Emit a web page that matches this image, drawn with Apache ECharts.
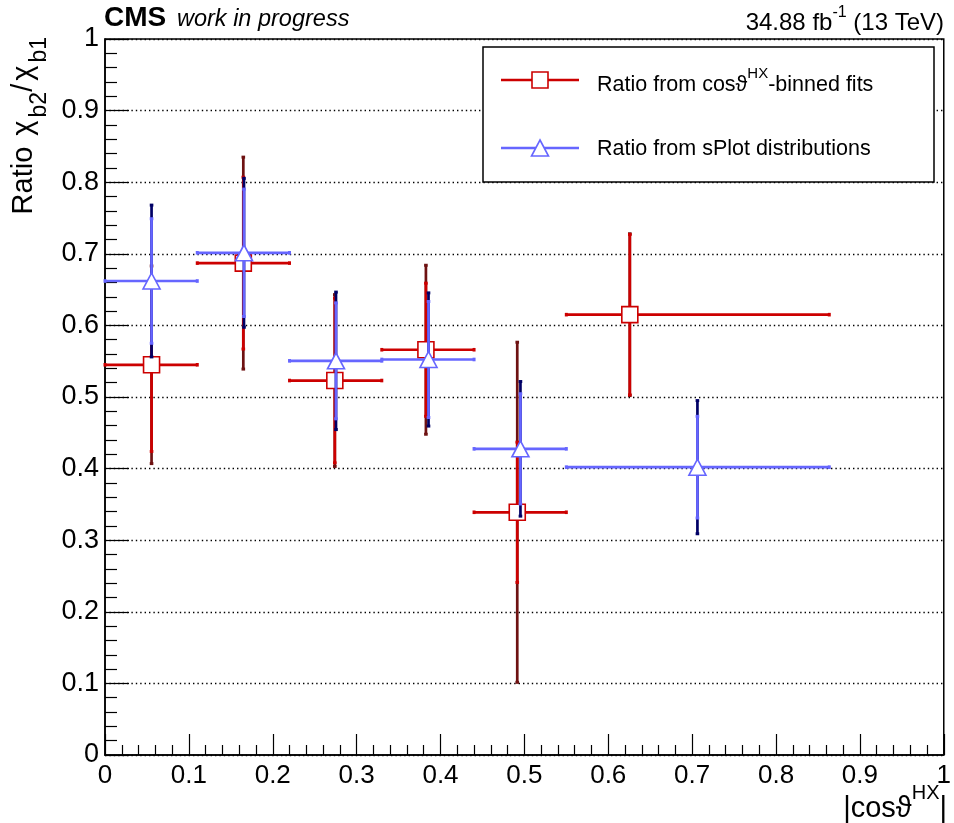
<!DOCTYPE html>
<html>
<head>
<meta charset="utf-8">
<script src="https://cdn.jsdelivr.net/npm/echarts@6/dist/echarts.min.js"></script>
<style>
html,body{margin:0;padding:0;background:#fff;}
#chart{width:954px;height:823px;}
</style>
</head>
<body>
<div id="chart"></div>
<script>
// ---- data ----
const binLow  = [0, 0.11, 0.22, 0.33, 0.44, 0.55];
const binHigh = [0.11, 0.22, 0.33, 0.44, 0.55, 0.8635];

const redX     = [0.0555, 0.1649, 0.274, 0.3826, 0.4915, 0.6257];
const redY     = [0.545, 0.687, 0.523, 0.566, 0.339, 0.615];
const redStat  = [0.121, 0.120, 0.115, 0.093, 0.098, 0.112];
const redTotal = [0.138, 0.148, 0.120, 0.118, 0.2375, 0.113];

const blueX     = [0.0555, 0.1657, 0.2754, 0.3857, 0.4953, 0.7063];
const blueY     = [0.662, 0.7014, 0.5505, 0.5524, 0.4276, 0.402];
const blueStat  = [0.087, 0.089, 0.081, 0.081, 0.077, 0.071];
const blueTotal = [0.106, 0.104, 0.096, 0.093, 0.094, 0.093];

const xTicks = [0, 0.1, 0.2, 0.3, 0.4, 0.5, 0.6, 0.7, 0.8, 0.9, 1];
const yTicks = [0, 0.1, 0.2, 0.3, 0.4, 0.5, 0.6, 0.7, 0.8, 0.9, 1];

const redName = 'Ratio from cosϑ^HX-binned fits';
const blueName = 'Ratio from sPlot distributions';

// ---- styles ----
const FONT = "'Liberation Sans', Arial, Helvetica, sans-serif";
const RED = '#cc0000', RED_DARK = '#6e1212';
const BLUE = '#6666ff', BLUE_DARK = '#000066';

function buildData(xs, ys, stat, tot) {
  return xs.map((x, i) => [x, ys[i], binLow[i], binHigh[i], stat[i], tot[i]]);
}

function errRenderer(col, dark) {
  return function (params, api) {
    const x = api.value(0), y = api.value(1);
    const xl = api.value(2), xh = api.value(3);
    const s = api.value(4), t = api.value(5);
    const pl = api.coord([xl, y]), ph = api.coord([xh, y]);
    const ts = api.coord([x, y + t]), tb = api.coord([x, y - t]);
    const ss = api.coord([x, y + s]), sb = api.coord([x, y - s]);
    const lw = 2.7;
    const cap = (p, c, w, h) => ({ type: 'rect', shape: { x: p[0] - w / 2, y: p[1] - h / 2, width: w, height: h }, style: { fill: c } });
    return {
      type: 'group',
      children: [
        { type: 'line', shape: { x1: tb[0], y1: tb[1], x2: ts[0], y2: ts[1] }, style: { stroke: dark, lineWidth: lw } },
        cap(ts, dark, 3.6, 3), cap(tb, dark, 3.6, 3),
        { type: 'line', shape: { x1: sb[0], y1: sb[1], x2: ss[0], y2: ss[1] }, style: { stroke: col, lineWidth: lw } },
        cap(ss, col, 3.6, 3), cap(sb, col, 3.6, 3),
        { type: 'line', shape: { x1: pl[0], y1: pl[1], x2: ph[0], y2: ph[1] }, style: { stroke: col, lineWidth: lw } },
        cap(pl, col, 3, 3.6), cap(ph, col, 3, 3.6)
      ]
    };
  };
}

const chart = echarts.init(document.getElementById('chart'), null, { renderer: 'canvas' });

const option = {
  backgroundColor: '#fff',
  animation: false,
  grid: { left: 105, right: 10, top: 39, bottom: 68, show: true, borderColor: '#000', borderWidth: 1.5, containLabel: false },
  xAxis: {
    type: 'value', min: 0, max: 1, interval: 0.1,
    axisLine: { show: true, onZero: false, lineStyle: { color: '#000', width: 1.5 } },
    axisTick: { show: true, inside: true, length: 21, lineStyle: { color: '#000', width: 1.2 } },
    minorTick: { show: true, splitNumber: 5, length: 10, lineStyle: { color: '#000', width: 1.2 } },
    splitLine: { show: false },
    axisLabel: { fontSize: 26, fontFamily: FONT, color: '#000', margin: 8, showMaxLabel: true, showMinLabel: true,
      formatter: v => { const f = xTicks.find(t => Math.abs(t - v) < 1e-6); return f === undefined ? '' : String(f); } }
  },
  yAxis: {
    type: 'value', min: 0, max: 1, interval: 0.1,
    axisLine: { show: true, onZero: false, lineStyle: { color: '#000', width: 1.5 } },
    axisTick: { show: true, inside: true, length: 24, lineStyle: { color: '#000', width: 1.2 } },
    minorTick: { show: true, splitNumber: 5, length: 12, lineStyle: { color: '#000', width: 1.2 } },
    splitLine: { show: true, lineStyle: { color: '#000', width: 1.4, type: [1.4, 3] } },
    axisLabel: { fontSize: 27, fontFamily: FONT, color: '#000', margin: 6, showMaxLabel: true, showMinLabel: true,
      formatter: v => { const f = yTicks.find(t => Math.abs(t - v) < 1e-6); return f === undefined ? '' : String(f); } }
  },
  series: [
    { name: redName, type: 'custom', z: 2, renderItem: errRenderer(RED, RED_DARK), data: buildData(redX, redY, redStat, redTotal), encode: { x: 0, y: 1 }, clip: false },
    { name: redName, type: 'scatter', z: 3, symbol: 'rect', symbolSize: 16, data: redX.map((x, i) => [x, redY[i]]),
      itemStyle: { color: '#fff', borderColor: RED, borderWidth: 1.6, opacity: 1 } },
    { name: blueName, type: 'custom', z: 4, renderItem: errRenderer(BLUE, BLUE_DARK), data: buildData(blueX, blueY, blueStat, blueTotal), encode: { x: 0, y: 1 }, clip: false },
    { name: blueName, type: 'scatter', z: 5, symbol: 'triangle', symbolSize: [17, 16], data: blueX.map((x, i) => [x, blueY[i]]),
      itemStyle: { color: '#fff', borderColor: BLUE, borderWidth: 1.6, opacity: 1 } }
  ],
  graphic: [
    // header
    { type: 'text', x: 104, y: 18, style: { text: 'CMS', font: "bold 28px " + FONT, fill: '#000', verticalAlign: 'middle' } },
    { type: 'text', x: 177, y: 19.5, style: { text: 'work in progress', font: "italic 23.5px " + FONT, fill: '#000', verticalAlign: 'middle' } },
    { type: 'text', x: 944, y: 20, style: {
        text: '{n|34.88 fb}{sup|-1}{n| (13 TeV)}', align: 'right', verticalAlign: 'middle',
        rich: {
          n: { fontSize: 24, fontFamily: FONT, fill: '#000', lineHeight: 30, verticalAlign: 'bottom' },
          sup: { fontSize: 16, fontFamily: FONT, fill: '#000', lineHeight: 30, verticalAlign: 'top' }
        } } },
    // y axis title
    { type: 'text', x: 30, y: 37, rotation: Math.PI / 2, style: {
        text: '{n|Ratio }{c|χ}{sub|b2}{n|/}{c|χ}{sub|b1}', align: 'right', verticalAlign: 'middle',
        rich: {
          n: { fontSize: 29, fontFamily: FONT, fill: '#000', lineHeight: 42, verticalAlign: 'top' },
          c: { fontSize: 29, fontFamily: FONT, fill: '#000', lineHeight: 42, verticalAlign: 'top', padding: [0, 3, 0, 3] },
          sub: { fontSize: 23, fontFamily: FONT, fill: '#000', lineHeight: 42, verticalAlign: 'bottom' }
        } } },
    // x axis title
    { type: 'text', x: 947, y: 803, style: {
        text: '{n|\u007Ccosϑ}{sup|HX}{n|\u007C}', align: 'right', verticalAlign: 'middle',
        rich: {
          n: { fontSize: 29, fontFamily: FONT, fill: '#000', lineHeight: 40, verticalAlign: 'bottom' },
          sup: { fontSize: 20, fontFamily: FONT, fill: '#000', lineHeight: 40, verticalAlign: 'top' }
        } } },
    // legend box
    { type: 'rect', shape: { x: 483, y: 47, width: 451, height: 135 }, style: { fill: '#fff', stroke: '#000', lineWidth: 1.5 }, z: 10 },
    { type: 'line', shape: { x1: 501, y1: 80, x2: 579, y2: 80 }, style: { stroke: RED, lineWidth: 2.7 }, z: 11 },
    { type: 'rect', shape: { x: 532, y: 72, width: 16, height: 16 }, style: { fill: '#fff', stroke: RED, lineWidth: 1.6 }, z: 12 },
    { type: 'text', x: 597, y: 81, z: 12, style: {
        text: '{n|Ratio from cosϑ}{sup|HX}{n|-binned fits}', verticalAlign: 'middle',
        rich: {
          n: { fontSize: 21.5, fontFamily: FONT, fill: '#000', lineHeight: 30, verticalAlign: 'bottom' },
          sup: { fontSize: 15, fontFamily: FONT, fill: '#000', lineHeight: 30, verticalAlign: 'top' }
        } } },
    { type: 'line', shape: { x1: 501, y1: 148, x2: 579, y2: 148 }, style: { stroke: BLUE, lineWidth: 2.7 }, z: 11 },
    { type: 'polygon', shape: { points: [[540, 140], [548.5, 156], [531.5, 156]] }, style: { fill: '#fff', stroke: BLUE, lineWidth: 1.6 }, z: 12 },
    { type: 'text', x: 597, y: 149, z: 12, style: { text: blueName, font: "21.5px " + FONT, fill: '#000', verticalAlign: 'middle' } }
  ]
};
chart.setOption(option);
</script>
</body>
</html>
